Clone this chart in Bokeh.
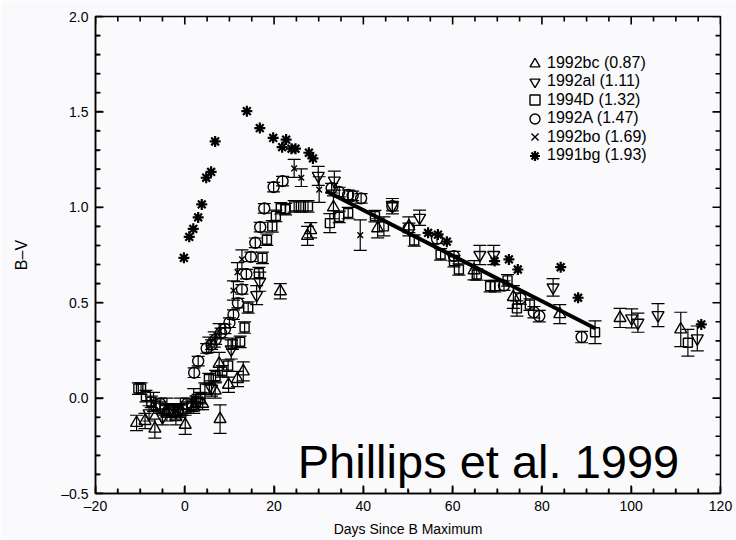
import math
from bokeh.plotting import figure
from bokeh.models import Range1d, FixedTicker, ColumnDataSource, Label, Legend, LegendItem
from bokeh.embed import file_html
from bokeh.resources import INLINE

# ---------------- data ----------------
bc_day = [-10.8, -8.9, -6.7, -4.0, -2.0, 0.1, 2.0, 4.0, 6.8, 7.7, 7.9, 9.8, 11.8, 13.1,
          21.4, 27.5, 28.2, 33.3, 43.2, 50.2, 64.8, 73.6, 84.0, 97.5, 111.1]
bc_bv = [-0.13, -0.12, -0.16, -0.08, -0.10, -0.14, -0.05, -0.03, 0.04, 0.18, -0.11, 0.07, 0.10, 0.14,
         0.56, 0.85, 0.88, 1.00, 0.89, 0.90, 0.67, 0.53, 0.44, 0.42, 0.36]
bc_err = [0.04, 0.04, 0.05, 0.04, 0.04, 0.05, 0.03, 0.03, 0.04, 0.06, 0.075, 0.04, 0.04, 0.05,
          0.04, 0.05, 0.04, 0.06, 0.05, 0.05, 0.05, 0.06, 0.05, 0.05, 0.09]

al_day = [-8.0, -5.0, -2.0, 3.0, 6.0, 10.4, 16.1, 16.8, 29.9, 33.5, 46.5, 52.6, 66.1, 69.2,
          82.5, 100.1, 101.5, 106.0, 114.8]
al_bv = [-0.08, -0.10, -0.07, -0.02, 0.05, 0.255, 0.54, 0.61, 1.165, 1.14, 1.006, 0.945, 0.75, 0.75,
         0.58, 0.418, 0.395, 0.435, 0.313]
al_err = [0.04, 0.04, 0.04, 0.04, 0.04, 0.05, 0.05, 0.05, 0.05, 0.05, 0.04, 0.04, 0.05, 0.05,
          0.046, 0.05, 0.05, 0.06, 0.065]

d94_day = [-10.4, -9.8, -8.7, -7.5, -6.5, -5.5, -4.5, -3.5, -2.5, -1.5, -0.5, 0.5, 1.5, 2.5, 3.5,
           4.5, 5.4, 6.9, 8.4, 9.7, 10.7, 12.4, 13.4, 14.2, 16.6, 17.4, 18.4, 19.6, 20.4, 21.5,
           22.6, 24.5, 26.0, 27.6, 32.5, 34.6, 36.6, 42.6, 44.6, 51.4, 57.3, 60.3, 61.4, 65.4,
           68.4, 69.5, 72.3, 74.4, 77.3, 91.9, 112.7]
d94_bv = [0.05, 0.05, 0.01, -0.02, -0.04, -0.05, -0.06, -0.06, -0.07, -0.07, -0.06, -0.05, -0.04,
          -0.02, 0.0, 0.05, 0.10, 0.115, 0.14, 0.17, 0.285, 0.295, 0.37, 0.475, 0.655, 0.735, 0.83,
          0.90, 0.955, 0.995, 0.99, 1.005, 1.005, 1.005, 0.917, 0.95, 0.97, 0.954, 0.90, 0.826,
          0.753, 0.718, 0.674, 0.648, 0.587, 0.587, 0.617, 0.47, 0.49, 0.345, 0.29]
d94_err = [0.03, 0.03, 0.03, 0.03, 0.03, 0.03, 0.03, 0.03, 0.03, 0.03, 0.03, 0.03, 0.03, 0.03, 0.03,
           0.03, 0.03, 0.03, 0.03, 0.03, 0.03, 0.03, 0.03, 0.03, 0.03, 0.03, 0.03, 0.03, 0.03, 0.03,
           0.03, 0.03, 0.03, 0.03, 0.05, 0.03, 0.03, 0.03, 0.05, 0.03, 0.03, 0.03, 0.03, 0.03,
           0.03, 0.03, 0.03, 0.04, 0.03, 0.06, 0.07]

a92_day = [-5.5, -3.5, -1.5, 0.5, 2.1, 3.0, 4.9, 6.0, 6.9, 8.1, 9.0, 10.0, 10.9, 11.9, 12.8, 13.8,
           14.8, 15.8, 16.9, 17.8, 19.9, 21.9, 32.9, 34.6, 36.6, 37.6, 39.5, 46.5, 50.2, 56.5,
           60.3, 71.5, 75.2, 78.2, 79.4, 88.9]
a92_bv = [-0.03, -0.06, -0.06, -0.03, 0.133, 0.194, 0.26, 0.28, 0.307, 0.342, 0.363, 0.395, 0.437,
          0.498, 0.57, 0.65, 0.74, 0.814, 0.896, 0.994, 1.106, 1.137, 1.10, 1.08, 1.065, 1.06,
          1.047, 1.006, 0.892, 0.835, 0.744, 0.59, 0.522, 0.45, 0.43, 0.32]
a92_err = [0.03] * 4 + [0.025] * 28 + [0.03, 0.03, 0.03, 0.03]

bo_day = [-7.0, -4.0, -1.0, 2.0, 5.4, 6.6, 7.7, 10.9, 11.8, 12.8, 24.5, 26.1, 30.1, 39.3]
bo_bv = [-0.02, -0.05, -0.05, 0.0, 0.28, 0.307, 0.35, 0.564, 0.66, 0.727, 1.204, 1.155, 1.093, 0.854]
bo_err = [0.05, 0.05, 0.05, 0.05, 0.04, 0.04, 0.04, 0.05, 0.05, 0.05, 0.047, 0.046, 0.067, 0.08]

bg_day = [-0.2, 1.0, 1.9, 3.0, 3.8, 4.8, 5.9, 6.8, 13.9, 16.8, 19.8, 21.8, 22.7, 23.9, 24.8, 27.8,
          28.7, 54.5, 56.7, 58.7, 69.4, 72.6, 74.6, 84.2, 88.1, 115.7]
bg_bv = [0.735, 0.845, 0.887, 0.947, 1.015, 1.155, 1.186, 1.345, 1.504, 1.415, 1.364, 1.315, 1.355,
         1.307, 1.307, 1.286, 1.256, 0.866, 0.857, 0.82, 0.718, 0.727, 0.674, 0.686, 0.526, 0.386]

fit_day = [31.6, 92.0]
fit_bv = [1.085, 0.365]

labels = ["1992bc (0.87)", "1992al (1.11)", "1994D (1.32)", "1992A (1.47)",
          "1992bo (1.69)", "1991bg (1.93)"]

X_LO, X_HI = -20, 120
Y_LO, Y_HI = -0.5, 2.0
x_major = [-20, 0, 20, 40, 60, 80, 100, 120]
x_minor = [v for v in range(-20, 121, 5) if v not in x_major]
y_major = [-0.5, 0.0, 0.5, 1.0, 1.5, 2.0]
y_minor = [round(-0.5 + 0.1 * i, 1) for i in range(26) if i % 5 != 0]

# ---------------- figure ----------------
FONT = "Liberation Sans"
BG = "#fafafc"
FW, FH = 625, 477  # frame size in px

p = figure(width=736, height=540, frame_width=FW, frame_height=FH,
           x_range=Range1d(X_LO, X_HI), y_range=Range1d(Y_LO, Y_HI),
           output_backend="svg", toolbar_location=None,
           min_border_left=95, min_border_right=16, min_border_top=16, min_border_bottom=47,
           background_fill_color=BG, border_fill_color=BG,
           outline_line_color="black", outline_line_width=1.5)
p.xgrid.visible = False
p.ygrid.visible = False

for ax in (p.xaxis[0], p.yaxis[0]):
    ax.axis_line_color = "black"
    ax.axis_line_width = 1.5
    ax.major_tick_in = 7
    ax.major_tick_out = 0
    ax.minor_tick_in = 4
    ax.minor_tick_out = 0
    ax.major_tick_line_color = "black"
    ax.minor_tick_line_color = "black"
    ax.major_tick_line_width = 1.6
    ax.minor_tick_line_width = 1.4
    ax.major_label_text_font = FONT
    ax.major_label_text_font_size = "14px"
    ax.major_label_text_color = "black"
    ax.axis_label_text_font = FONT
    ax.axis_label_text_font_style = "normal"
    ax.axis_label_text_color = "black"

xb = p.xaxis[0]
xb.ticker = FixedTicker(ticks=x_major, minor_ticks=x_minor)
xb.axis_label = "Days Since B Maximum"
xb.major_label_overrides = {-20: "\u201320"}
xb.axis_label_text_font_size = "14px"
xb.major_label_standoff = 4
xb.axis_label_standoff = 4

yl = p.yaxis[0]
yl.ticker = FixedTicker(ticks=y_major, minor_ticks=y_minor)
yl.axis_label = "B\u2013V"
yl.major_label_overrides = {-0.5: "\u20130.5", 0.0: "0.0", 0.5: "0.5", 1.0: "1.0",
                            1.5: "1.5", 2.0: "2.0"}
yl.axis_label_text_font_size = "16px"
yl.major_label_standoff = 7
yl.axis_label_standoff = 28

# inward tick marks on all four edges, drawn as dash markers lying inside the frame
dx_per_px = (X_HI - X_LO) / FW
dy_per_px = (Y_HI - Y_LO) / FH
TK = dict(marker="dash", line_color="black", line_width=1.6)
for vals, ln in ((y_major, 8), (y_minor, 5)):
    h = ln / 2 * dx_per_px
    n = len(vals)
    p.scatter([X_LO + h] * n + [X_HI - h] * n, vals * 2, size=ln, **TK)
for vals, ln in ((x_major, 8), (x_minor, 5)):
    h = ln / 2 * dy_per_px
    n = len(vals)
    p.scatter(vals * 2, [Y_LO + h] * n + [Y_HI - h] * n, size=ln, angle=math.pi / 2, **TK)

# fit line
p.line(fit_day, fit_bv, line_color="black", line_width=4)

series = [
    (bc_day, bc_bv, bc_err, "triangle", 12),
    (al_day, al_bv, al_err, "inverted_triangle", 12),
    (d94_day, d94_bv, d94_err, "square", 9),
    (a92_day, a92_bv, a92_err, "circle", 11),
    (bo_day, bo_bv, bo_err, "x", 8),
]

renderers = []
for xs, ys, es, mk, sz in series:
    src = ColumnDataSource(dict(x=xs, y=ys,
                                lo=[a - b for a, b in zip(ys, es)],
                                hi=[a + b for a, b in zip(ys, es)]))
    # error bars: stem plus a horizontal cap at each end, all glyphs from the same source
    p.segment(x0="x", x1="x", y0="lo", y1="hi", source=src, line_color="black", line_width=1.2)
    p.scatter("x", "lo", source=src, marker="dash", size=13, line_color="black", line_width=1.2)
    p.scatter("x", "hi", source=src, marker="dash", size=13, line_color="black", line_width=1.2)
    r = p.scatter("x", "y", source=src, marker=mk, size=sz, fill_alpha=0,
                  line_color="black", line_width=1.4)
    renderers.append(r)

rbg = p.scatter(bg_day, bg_bv, marker="asterisk", size=11, line_color="black", line_width=2.2)
renderers.append(rbg)

# one small legend per entry, stacked at the reference's row pitch
for i, (r, lab) in enumerate(zip(renderers, labels)):
    lg = Legend(items=[LegendItem(label=lab, renderers=[r])],
                location=(427, 417.5 - 18.4 * i),
                label_text_font=FONT, label_text_font_size="16px", label_text_color="black",
                glyph_width=25, glyph_height=25, label_height=18, spacing=0,
                padding=0, margin=0, label_standoff=-1,
                border_line_alpha=0, background_fill_alpha=0)
    p.add_layout(lg)

p.add_layout(Label(x=25.3, y=-0.33, text="Phillips et al. 1999", text_font=FONT,
                   text_font_size="47px", text_color="black", text_baseline="alphabetic"))

open("out.html", "w").write(file_html(p, INLINE))
